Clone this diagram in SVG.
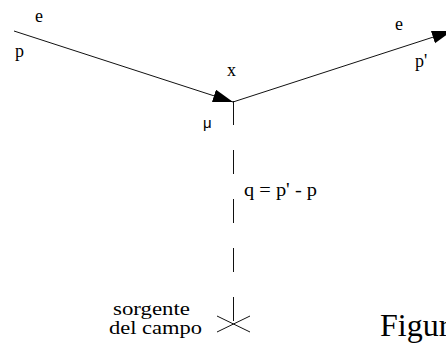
<svg xmlns="http://www.w3.org/2000/svg" width="446" height="347" viewBox="0 0 446 347">
  <style>
    .t { font-family: "Liberation Serif", "DejaVu Serif", serif; font-size: 18px; fill: #000; }
    .s { font-family: "Liberation Sans", "DejaVu Sans", sans-serif; font-size: 15px; fill: #000; }
    .ln { stroke: #111; stroke-width: 1; fill: none; }
  </style>
  <defs>
    <marker id="arr" markerUnits="userSpaceOnUse" markerWidth="21" markerHeight="14" refX="20" refY="6.5" orient="auto">
      <path d="M0,0 L20,6.5 L0,13 z" fill="#000"/>
    </marker>
  </defs>
  <rect width="446" height="347" fill="#fff"/>
  <g id="connectors">
    <line class="ln" x1="14" y1="31" x2="233" y2="102" marker-end="url(#arr)"/>
    <line class="ln" x1="233" y1="102" x2="452" y2="31" marker-end="url(#arr)"/>
    <line class="ln" x1="233.5" y1="101" x2="233.5" y2="324" stroke-dasharray="24 25"/>
  </g>
  <g id="incoming">
    <text class="t" x="35" y="22">e</text>
    <text class="t" x="15" y="57">p</text>
  </g>
  <g id="outgoing">
    <text class="t" x="395" y="30">e</text>
    <text class="t" x="415" y="67">p'</text>
  </g>
  <g id="vertex">
    <text class="t" x="227" y="76">x</text>
    <text class="s" x="203" y="128">μ</text>
  </g>
  <g id="propagator">
    <text class="t" x="244" y="196" textLength="73" lengthAdjust="spacingAndGlyphs">q = p' - p</text>
  </g>
  <g id="source">
    <line class="ln" x1="217" y1="316" x2="250" y2="332"/>
    <line class="ln" x1="217" y1="332" x2="250" y2="316"/>
    <text class="t" x="113" y="315" textLength="77" lengthAdjust="spacingAndGlyphs">sorgente</text>
    <text class="t" x="109" y="334" textLength="93" lengthAdjust="spacingAndGlyphs">del campo</text>
  </g>
  <g id="caption">
    <text class="t" x="380" y="336" style="font-size:32px">Figura</text>
  </g>
</svg>
